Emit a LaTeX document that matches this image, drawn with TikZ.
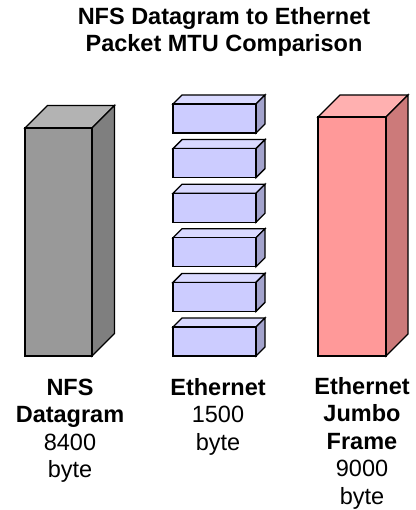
\documentclass[tikz,border=0pt]{standalone}
\usepackage{fontspec}
\setmainfont{Liberation Sans}
\definecolor{grayF}{HTML}{999999}
\definecolor{grayT}{HTML}{B3B3B3}
\definecolor{grayS}{HTML}{7F7F7F}
\definecolor{blueF}{HTML}{CCCCFF}
\definecolor{blueT}{HTML}{D9D9FF}
\definecolor{blueS}{HTML}{A3A3CC}
\definecolor{redF}{HTML}{FF9999}
\definecolor{redT}{HTML}{FFB0B0}
\definecolor{redS}{HTML}{CC7A7A}
\newcommand\mycuboid[6]{%
  \filldraw[boxline,fill=#6T] (#1,#2) -- ({#1+#5},{#2-#5}) -- ({#3+#5},{#2-#5}) -- (#3,#2) -- cycle;
  \filldraw[boxline,fill=#6S] (#3,#2) -- ({#3+#5},{#2-#5}) -- ({#3+#5},{#4-#5}) -- (#3,#4) -- cycle;
  \filldraw[boxline,fill=#6F] (#1,#2) rectangle (#3,#4);
}
\begin{document}
\begin{tikzpicture}[x=1pt,y=-1pt,
  boxline/.style={draw=black,line width=1.3pt},
  lbl/.style={inner sep=0pt,align=center,font=\fontsize{23.5}{27.5}\selectfont,anchor=base}]
\useasboundingbox (0,0) rectangle (415,510);
\node[lbl,font=\fontsize{23.5}{27.5}\selectfont\bfseries] (title) at (224,52)
  {NFS Datagram to Ethernet\\Packet MTU Comparison};
% NFS datagram
\mycuboid{25}{128}{92}{356}{22.5}{gray}
% Ethernet frames
\foreach \i in {0,...,5}{
  \pgfmathsetmacro\ytop{104+44.6*\i}
  \pgfmathsetmacro\ybot{\ytop+29}
  \mycuboid{173}{\ytop}{256}{\ybot}{9}{blue}
}
% Jumbo frame
\mycuboid{318}{117}{386}{356}{22}{red}
\node[lbl] (nfs) at (70,477.5) {\textbf{NFS}\\\textbf{Datagram}\\8400\\byte};
\node[lbl] (eth) at (218,450) {\textbf{Ethernet}\\1500\\byte};
\node[lbl] (jumbo) at (362,504) {\textbf{Ethernet}\\\textbf{Jumbo}\\\textbf{Frame}\\9000\\byte};
\end{tikzpicture}
\end{document}
